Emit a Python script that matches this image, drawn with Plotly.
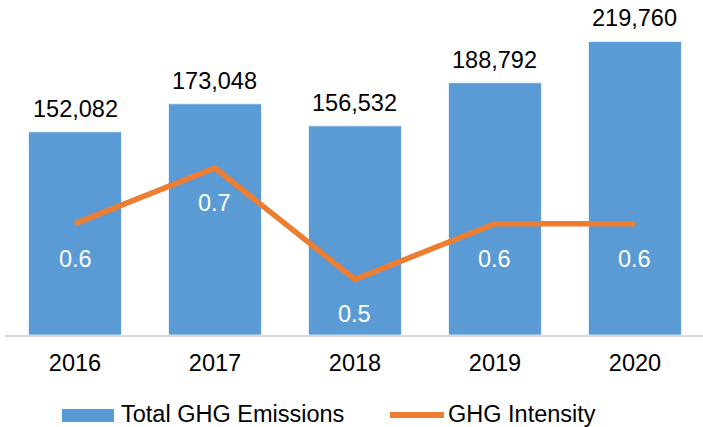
import plotly.graph_objects as go

years = ["2016", "2017", "2018", "2019", "2020"]
emissions = [152082, 173048, 156532, 188792, 219760]
intensity = [0.6, 0.7, 0.5, 0.6, 0.6]

BLUE = "#5B9BD5"
ORANGE = "#ED7D31"
FONT = "Liberation Sans, Arial, sans-serif"
FS = 23.5

fig = go.Figure()
fig.add_trace(go.Bar(
    x=years, y=emissions, name="Total GHG Emissions",
    marker=dict(color=BLUE, line=dict(color="rgba(255,255,255,0.7)", width=1)),
    showlegend=False,
))
fig.add_trace(go.Scatter(
    x=years, y=intensity, name="GHG Intensity", yaxis="y2",
    mode="lines", line=dict(color=ORANGE, width=5.5),
    showlegend=False,
))

ann = []
for i, v in enumerate(emissions):
    ann.append(dict(x=i, y=v, xref="x", yref="y", text=f"{v:,}",
                    showarrow=False, yanchor="bottom", yshift=8,
                    font=dict(family=FONT, size=FS, color="#000000")))
for i, v in enumerate(intensity):
    ann.append(dict(x=i, y=v, xref="x", yref="y2", text=f"{v:.1f}",
                    showarrow=False, yanchor="middle", yshift=-35,
                    font=dict(family=FONT, size=FS, color="#FFFFFF")))

# custom legend
L, T, W, H = 5, 1, 698, 334
def px(xp): return (xp - L) / W
def py(yp): return (T + H - yp) / H

shapes = [
    dict(type="rect", xref="paper", yref="paper", x0=px(62), x1=px(114),
         y0=py(422), y1=py(409), fillcolor=BLUE, line=dict(width=0)),
    dict(type="line", xref="paper", yref="paper", x0=px(390), x1=px(444),
         y0=py(415), y1=py(415), line=dict(color=ORANGE, width=6)),
]
ann.append(dict(xref="paper", yref="paper", x=px(119), y=py(414), text="Total GHG Emissions",
                showarrow=False, xanchor="left", yanchor="middle",
                font=dict(family=FONT, size=FS, color="#000000")))
ann.append(dict(xref="paper", yref="paper", x=px(446), y=py(414), text="GHG Intensity",
                showarrow=False, xanchor="left", yanchor="middle",
                font=dict(family=FONT, size=FS, color="#000000")))

hidden = dict(showticklabels=False, showline=False, showgrid=False,
              zeroline=False, ticks="")

fig.update_layout(
    width=703, height=427,
    margin=dict(l=L, r=703 - L - W, t=T, b=427 - T - H),
    paper_bgcolor="white", plot_bgcolor="white",
    bargap=0.336,
    font=dict(family=FONT, size=FS, color="#000000"),
    xaxis=dict(type="category", range=[-0.5, 4.486], showline=True,
               linecolor="#D9D9D9", linewidth=1.5, ticks="", showgrid=False,
               tickfont=dict(family=FONT, size=FS, color="#000000"),
               ticklabelstandoff=6),
    yaxis=dict(range=[0, 250000], **hidden),
    yaxis2=dict(range=[0.4, 1.0], overlaying="y", side="right", **hidden),
    annotations=ann, shapes=shapes,
)

fig.write_html("out.html", config={"displayModeBar": False})
with open("out.html", encoding="utf-8") as f:
    html = f.read()
html = html.replace("<body>", '<body style="margin:0;padding:0;overflow:hidden">', 1)
with open("out.html", "w", encoding="utf-8") as f:
    f.write(html)
